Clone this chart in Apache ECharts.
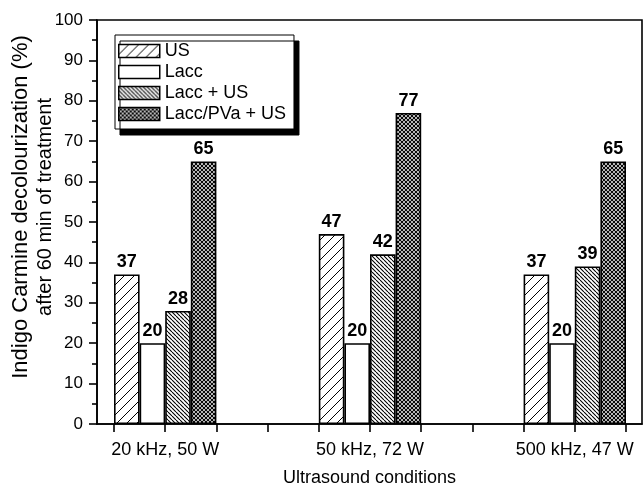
<!DOCTYPE html>
<html>
<head>
<meta charset="utf-8">
<script src="https://cdn.jsdelivr.net/npm/echarts@6/dist/echarts.min.js"></script>
<style>html,body{margin:0;padding:0;background:#fff;width:100%;height:100%;overflow:hidden}#c{width:643px;height:486px}</style>
</head>
<body>
<div id="c"></div>
<script>
// ---- data ----
const categories = ['20 kHz, 50 W', '50 kHz, 72 W', '500 kHz, 47 W'];
const seriesNames = ['US', 'Lacc', 'Lacc + US', 'Lacc/PVa + US'];
const usValues = [37, 47, 37];
const laccValues = [20, 20, 20];
const laccUsValues = [28, 42, 39];
const laccPvaUsValues = [65, 77, 65];
const yTickValues = [0, 10, 20, 30, 40, 50, 60, 70, 80, 90, 100];
const xAxisTitle = 'Ultrasound conditions';
const yAxisTitleLine1 = 'Indigo Carmine decolourization (%)';
const yAxisTitleLine2 = 'after 60 min of treatment';

const allValues = [usValues, laccValues, laccUsValues, laccPvaUsValues];

// ---- layout helpers (category slot positions on the x value axis) ----
const slotsPerGroup = 4;
const catPos = i => 2 + slotsPerGroup * i;
const barPos = (i, j) => catPos(i) + (j - 1.5) * 0.5;
const xTicks = [];
for (let t = 1; t <= 11; t++) xTicks.push(t);

// ---- patterns ----
function tile(size, draw) {
  const c = document.createElement('canvas');
  c.width = size; c.height = size;
  const ctx = c.getContext('2d');
  ctx.fillStyle = '#fff';
  ctx.fillRect(0, 0, size, size);
  draw(ctx, size);
  return { image: c, repeat: 'repeat' };
}
function fwd(ctx, s, w) {
  ctx.strokeStyle = '#000'; ctx.lineWidth = w; ctx.beginPath();
  for (let k = -1; k <= 1; k++) { ctx.moveTo(k * s, s); ctx.lineTo(k * s + s, 0); }
  ctx.stroke();
}
function back(ctx, s, w) {
  ctx.strokeStyle = '#000'; ctx.lineWidth = w; ctx.beginPath();
  for (let k = -1; k <= 1; k++) { ctx.moveTo(k * s, 0); ctx.lineTo(k * s + s, s); }
  ctx.stroke();
}
const fills = [
  tile(10, (ctx, s) => fwd(ctx, s, 1)),
  '#ffffff',
  tile(4, (ctx, s) => back(ctx, s, 1.1)),
  tile(4, (ctx, s) => { fwd(ctx, s, 1.1); back(ctx, s, 1.1); })
];

const FONT = "'Liberation Sans', Arial, sans-serif";

const series = seriesNames.map((name, j) => ({
  name: name,
  type: 'bar',
  barWidth: 25.6,
  barGap: '-100%',
  data: allValues[j].map((v, i) => [barPos(i, j), v]),
  itemStyle: { color: fills[j], borderColor: '#000', borderWidth: 1.6 },
  label: {
    show: true, position: 'top', distance: 3,
    formatter: p => p.value[1],
    fontFamily: FONT, fontSize: 18, fontWeight: 'bold', color: '#000'
  }
}));

const chart = echarts.init(document.getElementById('c'));
chart.setOption({
  animation: false,
  backgroundColor: '#fff',
  grid: { left: 97, right: 1, top: 20, bottom: 62, show: true, borderColor: '#000', borderWidth: 1.6, containLabel: false, outerBoundsMode: 'none' },
  legend: {
    orient: 'vertical', left: 115, top: 35,
    data: seriesNames,
    icon: 'rect', itemWidth: 41, itemHeight: 13, itemGap: 3,
    padding: [7, 8, 6, 3],
    backgroundColor: '#fff', borderColor: '#000', borderWidth: 1,
    shadowColor: '#000', shadowBlur: 0, shadowOffsetX: 5, shadowOffsetY: 6,
    itemStyle: { borderColor: '#000', borderWidth: 1.5 },
    textStyle: { fontFamily: FONT, fontSize: 18, color: '#000', padding: [0, 0, 0, 0] }
  },
  xAxis: {
    type: 'value', min: 1 - 17 / 51.2, max: 11 + 16 / 51.2,
    name: xAxisTitle, nameLocation: 'middle', nameGap: 45, nameMoveOverlap: false,
    nameTextStyle: { fontFamily: FONT, fontSize: 18, color: '#000' },
    axisLine: { show: true, lineStyle: { color: '#000', width: 1.6 } },
    axisTick: { show: true, inside: false, length: 8, customValues: xTicks, lineStyle: { color: '#000', width: 1.6 } },
    axisLabel: {
      customValues: categories.map((c, i) => catPos(i)),
      formatter: v => { const i = Math.round((v - 2) / slotsPerGroup); return categories[i] || ''; },
      fontFamily: FONT, fontSize: 18, color: '#000', margin: 17
    },
    splitLine: { show: false }
  },
  yAxis: {
    type: 'value', min: 0, max: 100, interval: 10,
    name: '{a|' + yAxisTitleLine1 + '}\n{b|' + yAxisTitleLine2 + '}',
    nameLocation: 'middle', nameGap: 40, nameRotate: 90, nameMoveOverlap: false,
    nameTextStyle: {
      fontFamily: FONT, color: '#000', padding: [0, 0, 0, 30],
      rich: {
        a: { fontFamily: FONT, fontSize: 22, lineHeight: 24, color: '#000' },
        b: { fontFamily: FONT, fontSize: 20, lineHeight: 24, color: '#000' }
      }
    },
    axisLine: { show: true, lineStyle: { color: '#000', width: 1.6 } },
    axisTick: { show: true, inside: false, length: 8, lineStyle: { color: '#000', width: 1.6 } },
    minorTick: { show: true, splitNumber: 2, length: 5, lineStyle: { color: '#000', width: 1.6 } },
    axisLabel: {
      customValues: yTickValues,
      fontFamily: FONT, fontSize: 17, color: '#000', margin: 14
    },
    splitLine: { show: false }
  },
  series: series
});
</script>
</body>
</html>
